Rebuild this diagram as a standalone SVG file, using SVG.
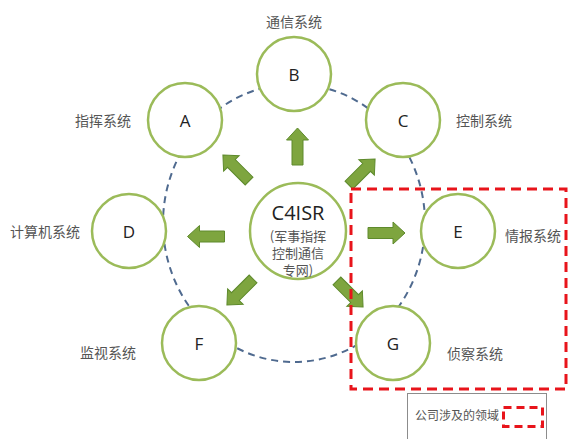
<svg xmlns="http://www.w3.org/2000/svg" xmlns:xlink="http://www.w3.org/1999/xlink" width="568" height="439" viewBox="0 0 568 439">
<style>
.node{fill:#fff;stroke:#9bbb59;stroke-width:2.5}
.letter{font-family:"Open Sans","Liberation Sans",sans-serif;font-size:17px;fill:#222;text-anchor:middle;dominant-baseline:central}
.lbl{font-family:"Noto Sans CJK SC",sans-serif;font-size:14px;fill:#555;dominant-baseline:central}
.arr{fill:#7ea53f;stroke:#5e8a2c;stroke-width:1}
.sub{font-family:"Noto Sans CJK SC",sans-serif;font-size:13px;fill:#555;text-anchor:middle;dominant-baseline:central}
</style>
<defs>
<path id="arr" d="M0,-18.5 L11,-6.5 L5.5,-6.5 L5.5,18.5 L-5.5,18.5 L-5.5,-6.5 L-11,-6.5 Z"/>
</defs>
<rect width="568" height="439" fill="#fff"/>
<g id="orbit">
<ellipse cx="294" cy="223" rx="131" ry="139" fill="none" stroke="#4f6a8f" stroke-width="2" stroke-dasharray="7 5"/>
</g>
<g id="connectors" class="arr">
<use xlink:href="#arr" href="#arr" transform="translate(297.5,146.5)"/>
<use xlink:href="#arr" href="#arr" transform="translate(206,236.5) rotate(-90)"/>
<use xlink:href="#arr" href="#arr" transform="translate(386.5,233) rotate(90)"/>
<use xlink:href="#arr" href="#arr" transform="translate(236,168) rotate(-45)"/>
<use xlink:href="#arr" href="#arr" transform="translate(362,172) rotate(45)"/>
<use xlink:href="#arr" href="#arr" transform="translate(240,292) rotate(-135)"/>
<use xlink:href="#arr" href="#arr" transform="translate(350,294) rotate(135)"/>
</g>
<g id="center">
<circle class="node" cx="298" cy="231" r="48"/>
<text x="298" y="212" class="letter" style="font-size:20px">C4ISR</text>
<text x="298" y="235" class="sub">(军事指挥</text>
<text x="298" y="252" class="sub">控制通信</text>
<text x="298" y="269" class="sub">专网)</text>
</g>
<g id="nodeA"><circle class="node" cx="185" cy="120" r="37"/><text x="185" y="120" class="letter">A</text><text x="75" y="120" class="lbl">指挥系统</text></g>
<g id="nodeB"><circle class="node" cx="294" cy="74" r="37"/><text x="294" y="74" class="letter">B</text><text x="294" y="21" class="lbl" text-anchor="middle">通信系统</text></g>
<g id="nodeC"><circle class="node" cx="403" cy="120" r="37"/><text x="403" y="120" class="letter">C</text><text x="456" y="120" class="lbl">控制系统</text></g>
<g id="nodeD"><circle class="node" cx="129" cy="231" r="37"/><text x="129" y="231" class="letter">D</text><text x="10" y="231" class="lbl">计算机系统</text></g>
<g id="nodeE"><circle class="node" cx="458" cy="231" r="37"/><text x="458" y="231" class="letter">E</text><text x="505" y="235" class="lbl">情报系统</text></g>
<g id="nodeF"><circle class="node" cx="199" cy="343" r="37"/><text x="199" y="343" class="letter">F</text><text x="80" y="352" class="lbl">监视系统</text></g>
<g id="nodeG"><circle class="node" cx="393" cy="343" r="37"/><text x="393" y="343" class="letter">G</text><text x="447" y="353" class="lbl">侦察系统</text></g>
<g id="region">
<rect x="351" y="189" width="215" height="200" fill="none" stroke="#e8141b" stroke-width="3" stroke-dasharray="10 6"/>
</g>
<g id="legend">
<rect x="407.5" y="393.5" width="139" height="52" fill="#fff" stroke="#8c8c8c" stroke-width="1"/>
<text x="415" y="416" style="font-family:'Liberation Serif','Noto Sans CJK SC',serif;font-size:12px;fill:#555" dominant-baseline="central">公司涉及的领域</text>
<rect x="503.5" y="407.5" width="39" height="19" fill="none" stroke="#e8141b" stroke-width="3" stroke-dasharray="8 5"/>
</g>
</svg>
